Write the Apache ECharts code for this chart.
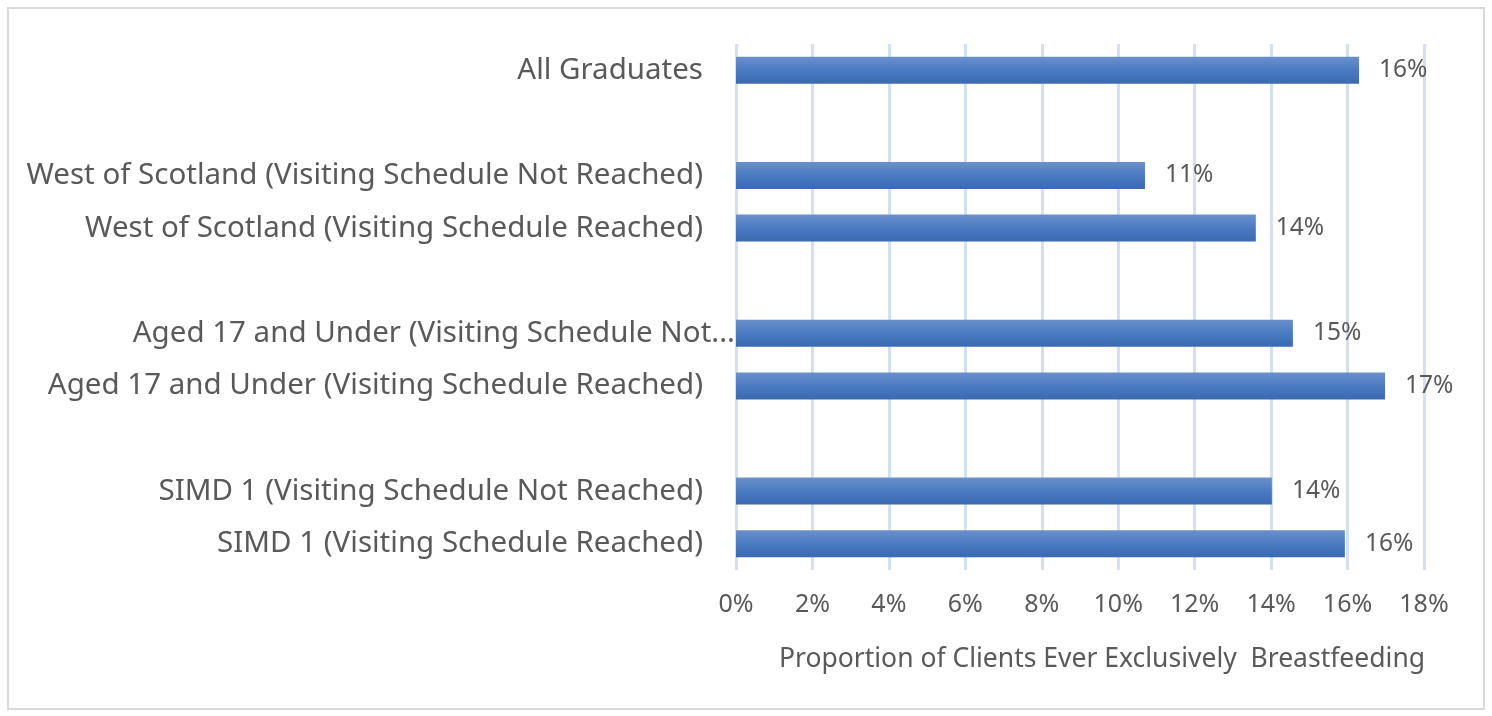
<!DOCTYPE html>
<html>
<head>
<meta charset="utf-8">
<script src="https://cdn.jsdelivr.net/npm/echarts@6/dist/echarts.min.js"></script>
<style>
  html, body { margin: 0; padding: 0; background: #fff; }
  #frame { position: absolute; left: 7px; top: 7px; width: 1474px; height: 699px; border: 2px solid #d9d9d9; }
  #chart { width: 1492px; height: 716px; }
</style>
</head>
<body>
<div id="frame"></div>
<div id="chart"></div>
<script>
// categories top to bottom, blanks are the gaps between groups
var categories = [
    'All Graduates',
    '',
    'West of Scotland (Visiting Schedule Not Reached)',
    'West of Scotland (Visiting Schedule Reached)',
    '',
    'Aged 17 and Under (Visiting Schedule Not...',
    'Aged 17 and Under (Visiting Schedule Reached)',
    '',
    'SIMD 1 (Visiting Schedule Not Reached)',
    'SIMD 1 (Visiting Schedule Reached)'
];
var values = [0.163, null, 0.107, 0.136, null, 0.1457, 0.1698, null, 0.1402, 0.1593];
var axisTitle = 'Proportion of Clients Ever Exclusively  Breastfeeding';

var font = "'Noto Sans', sans-serif";
var textColor = '#595959';

// the clipped label runs right up to the axis in the original
var yData = categories.map((c) => c.endsWith('...')
    ? { value: c, textStyle: { padding: [0, -32, 0, 0] } }
    : c);

var chart = echarts.init(document.getElementById('chart'));
chart.setOption({
    animation: false,
    grid: {
        left: 736,
        right: 68,
        top: 44,
        bottom: 146
    },
    xAxis: {
        type: 'value',
        min: 0,
        max: 0.18,
        interval: 0.02,
        name: axisTitle,
        nameLocation: 'middle',
        nameGap: 76,
        nameTextStyle: { color: textColor, fontSize: 26.5, fontFamily: font, padding: [0, 0, 0, 44] },
        axisLine: { show: false },
        axisTick: { show: false },
        axisLabel: {
            color: textColor,
            fontSize: 25,
            fontFamily: font,
            margin: 22,
            formatter: (v) => Math.round(v * 100) + '%'
        },
        splitLine: { lineStyle: { color: '#d3e0f3', width: 3 } }
    },
    yAxis: {
        type: 'category',
        data: yData,
        inverse: true,
        axisLine: { show: false },
        axisTick: { show: false },
        axisLabel: {
            color: textColor,
            fontSize: 29.5,
            fontFamily: font,
            margin: 33
        }
    },
    series: [{
        type: 'bar',
        data: values,
        barWidth: 27,
        itemStyle: {
            color: new echarts.graphic.LinearGradient(0, 0, 0, 1, [
                { offset: 0, color: '#6b90cc' },
                { offset: 0.5, color: '#4a7bc2' },
                { offset: 1, color: '#3a69b0' }
            ])
        },
        label: {
            show: true,
            position: 'right',
            distance: 20,
            color: textColor,
            fontSize: 24.5,
            fontFamily: font,
            formatter: (p) => Math.round(p.value * 100) + '%'
        }
    }]
});
</script>
</body>
</html>
